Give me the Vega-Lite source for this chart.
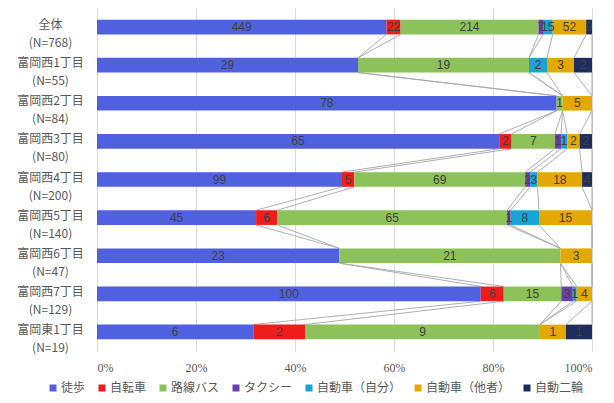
{
  "$schema": "https://vega.github.io/schema/vega-lite/v6.json",
  "width": 495,
  "height": 343,
  "autosize": "none",
  "padding": {"left": 97, "top": 8, "right": 22, "bottom": 52},
  "background": "white",
  "config": {"view": {"stroke": null}, "font": "Noto Sans CJK JP"},
  "data": {"values": [
    {"a": "全体\n(N=768)", "r": 0, "m": "徒歩", "k": 1, "n": 449},
    {"a": "全体\n(N=768)", "r": 0, "m": "自転車", "k": 2, "n": 22},
    {"a": "全体\n(N=768)", "r": 0, "m": "路線バス", "k": 3, "n": 214},
    {"a": "全体\n(N=768)", "r": 0, "m": "タクシー", "k": 4, "n": 7},
    {"a": "全体\n(N=768)", "r": 0, "m": "自動車（自分）", "k": 5, "n": 15},
    {"a": "全体\n(N=768)", "r": 0, "m": "自動車（他者）", "k": 6, "n": 52},
    {"a": "全体\n(N=768)", "r": 0, "m": "自動二輪", "k": 7, "n": 9},
    {"a": "富岡西1丁目\n(N=55)", "r": 1, "m": "徒歩", "k": 1, "n": 29},
    {"a": "富岡西1丁目\n(N=55)", "r": 1, "m": "自転車", "k": 2, "n": 0},
    {"a": "富岡西1丁目\n(N=55)", "r": 1, "m": "路線バス", "k": 3, "n": 19},
    {"a": "富岡西1丁目\n(N=55)", "r": 1, "m": "タクシー", "k": 4, "n": 0},
    {"a": "富岡西1丁目\n(N=55)", "r": 1, "m": "自動車（自分）", "k": 5, "n": 2},
    {"a": "富岡西1丁目\n(N=55)", "r": 1, "m": "自動車（他者）", "k": 6, "n": 3},
    {"a": "富岡西1丁目\n(N=55)", "r": 1, "m": "自動二輪", "k": 7, "n": 2},
    {"a": "富岡西2丁目\n(N=84)", "r": 2, "m": "徒歩", "k": 1, "n": 78},
    {"a": "富岡西2丁目\n(N=84)", "r": 2, "m": "自転車", "k": 2, "n": 0},
    {"a": "富岡西2丁目\n(N=84)", "r": 2, "m": "路線バス", "k": 3, "n": 1},
    {"a": "富岡西2丁目\n(N=84)", "r": 2, "m": "タクシー", "k": 4, "n": 0},
    {"a": "富岡西2丁目\n(N=84)", "r": 2, "m": "自動車（自分）", "k": 5, "n": 0},
    {"a": "富岡西2丁目\n(N=84)", "r": 2, "m": "自動車（他者）", "k": 6, "n": 5},
    {"a": "富岡西2丁目\n(N=84)", "r": 2, "m": "自動二輪", "k": 7, "n": 0},
    {"a": "富岡西3丁目\n(N=80)", "r": 3, "m": "徒歩", "k": 1, "n": 65},
    {"a": "富岡西3丁目\n(N=80)", "r": 3, "m": "自転車", "k": 2, "n": 2},
    {"a": "富岡西3丁目\n(N=80)", "r": 3, "m": "路線バス", "k": 3, "n": 7},
    {"a": "富岡西3丁目\n(N=80)", "r": 3, "m": "タクシー", "k": 4, "n": 1},
    {"a": "富岡西3丁目\n(N=80)", "r": 3, "m": "自動車（自分）", "k": 5, "n": 1},
    {"a": "富岡西3丁目\n(N=80)", "r": 3, "m": "自動車（他者）", "k": 6, "n": 2},
    {"a": "富岡西3丁目\n(N=80)", "r": 3, "m": "自動二輪", "k": 7, "n": 2},
    {"a": "富岡西4丁目\n(N=200)", "r": 4, "m": "徒歩", "k": 1, "n": 99},
    {"a": "富岡西4丁目\n(N=200)", "r": 4, "m": "自転車", "k": 2, "n": 5},
    {"a": "富岡西4丁目\n(N=200)", "r": 4, "m": "路線バス", "k": 3, "n": 69},
    {"a": "富岡西4丁目\n(N=200)", "r": 4, "m": "タクシー", "k": 4, "n": 2},
    {"a": "富岡西4丁目\n(N=200)", "r": 4, "m": "自動車（自分）", "k": 5, "n": 3},
    {"a": "富岡西4丁目\n(N=200)", "r": 4, "m": "自動車（他者）", "k": 6, "n": 18},
    {"a": "富岡西4丁目\n(N=200)", "r": 4, "m": "自動二輪", "k": 7, "n": 4},
    {"a": "富岡西5丁目\n(N=140)", "r": 5, "m": "徒歩", "k": 1, "n": 45},
    {"a": "富岡西5丁目\n(N=140)", "r": 5, "m": "自転車", "k": 2, "n": 6},
    {"a": "富岡西5丁目\n(N=140)", "r": 5, "m": "路線バス", "k": 3, "n": 65},
    {"a": "富岡西5丁目\n(N=140)", "r": 5, "m": "タクシー", "k": 4, "n": 1},
    {"a": "富岡西5丁目\n(N=140)", "r": 5, "m": "自動車（自分）", "k": 5, "n": 8},
    {"a": "富岡西5丁目\n(N=140)", "r": 5, "m": "自動車（他者）", "k": 6, "n": 15},
    {"a": "富岡西5丁目\n(N=140)", "r": 5, "m": "自動二輪", "k": 7, "n": 0},
    {"a": "富岡西6丁目\n(N=47)", "r": 6, "m": "徒歩", "k": 1, "n": 23},
    {"a": "富岡西6丁目\n(N=47)", "r": 6, "m": "自転車", "k": 2, "n": 0},
    {"a": "富岡西6丁目\n(N=47)", "r": 6, "m": "路線バス", "k": 3, "n": 21},
    {"a": "富岡西6丁目\n(N=47)", "r": 6, "m": "タクシー", "k": 4, "n": 0},
    {"a": "富岡西6丁目\n(N=47)", "r": 6, "m": "自動車（自分）", "k": 5, "n": 0},
    {"a": "富岡西6丁目\n(N=47)", "r": 6, "m": "自動車（他者）", "k": 6, "n": 3},
    {"a": "富岡西6丁目\n(N=47)", "r": 6, "m": "自動二輪", "k": 7, "n": 0},
    {"a": "富岡西7丁目\n(N=129)", "r": 7, "m": "徒歩", "k": 1, "n": 100},
    {"a": "富岡西7丁目\n(N=129)", "r": 7, "m": "自転車", "k": 2, "n": 6},
    {"a": "富岡西7丁目\n(N=129)", "r": 7, "m": "路線バス", "k": 3, "n": 15},
    {"a": "富岡西7丁目\n(N=129)", "r": 7, "m": "タクシー", "k": 4, "n": 3},
    {"a": "富岡西7丁目\n(N=129)", "r": 7, "m": "自動車（自分）", "k": 5, "n": 1},
    {"a": "富岡西7丁目\n(N=129)", "r": 7, "m": "自動車（他者）", "k": 6, "n": 4},
    {"a": "富岡西7丁目\n(N=129)", "r": 7, "m": "自動二輪", "k": 7, "n": 0},
    {"a": "富岡東1丁目\n(N=19)", "r": 8, "m": "徒歩", "k": 1, "n": 6},
    {"a": "富岡東1丁目\n(N=19)", "r": 8, "m": "自転車", "k": 2, "n": 2},
    {"a": "富岡東1丁目\n(N=19)", "r": 8, "m": "路線バス", "k": 3, "n": 9},
    {"a": "富岡東1丁目\n(N=19)", "r": 8, "m": "タクシー", "k": 4, "n": 0},
    {"a": "富岡東1丁目\n(N=19)", "r": 8, "m": "自動車（自分）", "k": 5, "n": 0},
    {"a": "富岡東1丁目\n(N=19)", "r": 8, "m": "自動車（他者）", "k": 6, "n": 1},
    {"a": "富岡東1丁目\n(N=19)", "r": 8, "m": "自動二輪", "k": 7, "n": 1}
  ]},
  "encoding": {
    "y": {
      "field": "a",
      "type": "nominal",
      "title": null,
      "scale": {
        "domain": ["全体\n(N=768)", "富岡西1丁目\n(N=55)", "富岡西2丁目\n(N=84)", "富岡西3丁目\n(N=80)", "富岡西4丁目\n(N=200)", "富岡西5丁目\n(N=140)", "富岡西6丁目\n(N=47)", "富岡西7丁目\n(N=129)", "富岡東1丁目\n(N=19)"],
        "paddingInner": 0.615,
        "paddingOuter": 0.3075
      },
      "axis": {
        "domain": false,
        "ticks": false,
        "grid": false,
        "labelExpr": "split(datum.label, '\\n')",
        "labelAlign": "center",
        "labelPadding": 47,
        "labelOffset": -2,
        "labelFontSize": 12,
        "labelLineHeight": 18,
        "labelColor": "#595959",
        "labelFont": "Noto Sans CJK JP"
      }
    }
  },
  "layer": [
    {
      "transform": [
        {"stack": "n", "groupby": ["a"], "sort": [{"field": "k"}], "offset": "normalize", "as": ["s0", "s1"]},
        {"window": [{"op": "lead", "field": "s1", "as": "t1"}, {"op": "lead", "field": "a", "as": "b"}], "groupby": ["m"], "sort": [{"field": "r"}]},
        {"filter": "datum.b != null"}
      ],
      "mark": {"type": "rule", "color": "#a6a6a6", "strokeWidth": 0.9, "yOffset": 7.4, "y2Offset": -7.4},
      "encoding": {
        "x": {"field": "s1", "type": "quantitative", "title": null, "scale": {"domain": [0, 1]}},
        "x2": {"field": "t1"},
        "y2": {"field": "b"}
      }
    },
    {
      "mark": {"type": "bar"},
      "encoding": {
        "x": {
          "field": "n",
          "type": "quantitative",
          "stack": "normalize",
          "title": null,
          "scale": {"domain": [0, 1]},
          "axis": {
            "format": "%",
            "values": [0, 0.2, 0.4, 0.6, 0.8, 1],
            "grid": true,
            "gridColor": "#d9d9d9",
            "domain": false,
            "ticks": false,
            "labelFont": "Liberation Serif",
            "labelFontSize": 12,
            "labelColor": "#595959",
            "labelPadding": 11
          }
        },
        "order": {"field": "k"},
        "color": {
          "field": "m",
          "type": "nominal",
          "sort": ["徒歩", "自転車", "路線バス", "タクシー", "自動車（自分）", "自動車（他者）", "自動二輪"],
          "scale": {
            "domain": ["徒歩", "自転車", "路線バス", "タクシー", "自動車（自分）", "自動車（他者）", "自動二輪"],
            "range": ["#5061E0", "#EF1C1C", "#8DC25A", "#6B40AE", "#18A4D4", "#E3A900", "#1F2D5E"]
          },
          "legend": {
            "orient": "none",
            "legendX": -50,
            "legendY": 374,
            "direction": "horizontal",
            "title": null,
            "symbolType": "square",
            "symbolSize": 49,
            "symbolStrokeWidth": 0,
            "labelFontSize": 12,
            "labelColor": "#595959",
            "labelFont": "Noto Sans CJK JP",
            "labelOffset": 2,
            "columnPadding": 10
          }
        }
      }
    },
    {
      "transform": [{"filter": "datum.n > 0"}],
      "mark": {"type": "text", "font": "Liberation Sans", "fontSize": 12, "color": "#404040"},
      "encoding": {
        "x": {"field": "n", "type": "quantitative", "stack": "normalize", "bandPosition": 0.5},
        "order": {"field": "k"},
        "text": {"field": "n", "type": "quantitative"}
      }
    }
  ]
}
